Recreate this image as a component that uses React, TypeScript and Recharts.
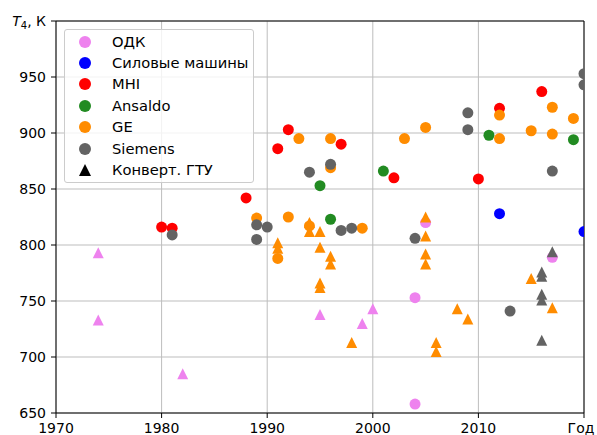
import { ScatterChart, Scatter, XAxis, YAxis, CartesianGrid, ReferenceLine, Legend } from "recharts";

// [year, T4] pairs
const odkDots = [[2004, 753], [2004, 658], [2005, 820], [2017, 789]];
const odkTris = [[1974, 793], [1974, 733], [1982, 685], [1995, 738], [1999, 730], [2000, 743]];
const silmashDots = [[2012, 828], [2020, 812]];
const mhiDots = [
  [1980, 816], [1981, 815], [1988, 842], [1991, 886], [1992, 903],
  [1997, 890], [2002, 860], [2010, 859], [2012, 922], [2016, 937],
];
const ansaldoDots = [[1995, 853], [1996, 823], [2001, 866], [2011, 898], [2019, 894]];
const geDots = [
  [1989, 824], [1991, 788], [1992, 825], [1993, 895], [1994, 817], [1996, 895],
  [1996, 869], [1999, 815], [2003, 895], [2005, 905], [2012, 916], [2012, 895],
  [2015, 902], [2017, 923], [2017, 899], [2019, 913],
];
const geTris = [
  [1991, 802], [1991, 797], [1994, 820], [1994, 812], [1995, 812], [1995, 798],
  [1995, 766], [1995, 762], [1996, 790], [1996, 783], [1998, 713], [2005, 825],
  [2005, 808], [2005, 792], [2005, 783], [2006, 713], [2006, 705], [2008, 743],
  [2009, 734], [2015, 770], [2017, 744],
];
const siemensDots = [
  [1981, 809], [1989, 818], [1989, 805], [1990, 816], [1994, 865], [1996, 872],
  [1997, 813], [1998, 815], [2004, 806], [2009, 918], [2009, 903], [2013, 741],
  [2017, 866], [2020, 953], [2020, 943],
];
const siemensTris = [[2016, 776], [2016, 772], [2016, 756], [2016, 751], [2016, 715], [2017, 794]];

const xTicks = [1970, 1980, 1990, 2000, 2010, 2020];
const yTicks = [650, 700, 750, 800, 850, 900, 950, 1000];

const legendItems = [
  { label: "ОДК", color: "#ee82ee", tri: false },
  { label: "Силовые машины", color: "#0000ff", tri: false },
  { label: "MHI", color: "#ff0000", tri: false },
  { label: "Ansaldo", color: "#228b22", tri: false },
  { label: "GE", color: "#ff8c00", tri: false },
  { label: "Siemens", color: "#636363", tri: false },
  { label: "Конверт. ГТУ", color: "#000000", tri: true },
];

const FONT = "'DejaVu Sans', sans-serif";

const toPts = (rows: number[][]) => rows.map(([year, t4]) => ({ year, t4 }));

const dot = (fill: string) => (p: any) => <circle cx={p.cx} cy={p.cy} r={5.5} fill={fill} />;
const tri = (fill: string) => (p: any) => (
  <path
    d={`M${p.cx},${p.cy - 5.5}L${p.cx + 5.5},${p.cy + 5.5}L${p.cx - 5.5},${p.cy + 5.5}Z`}
    fill={fill}
  />
);

const XTick = (p: any) => (
  <text x={p.x} y={p.y} dy="0.71em" textAnchor="middle" fontFamily={FONT} fontSize={14} fill="#000">
    {p.payload.value === 2020 ? "Год" : p.payload.value}
  </text>
);

const YTick = (p: any) =>
  p.payload.value === 1000 ? (
    <text x={p.x} y={p.y} dy="0.35em" textAnchor="end" fontFamily={FONT} fontSize={14} fill="#000">
      <tspan fontStyle="italic">T</tspan>
      <tspan fontSize={10} dy={3}>4</tspan>
      <tspan dy={-3}>, К</tspan>
    </text>
  ) : (
    <text x={p.x} y={p.y} dy="0.35em" textAnchor="end" fontFamily={FONT} fontSize={14} fill="#000">
      {p.payload.value}
    </text>
  );

function LegendBox() {
  return (
    <div
      style={{
        width: 188,
        height: 152,
        border: "1px solid #cccccc",
        borderRadius: 3,
        background: "rgba(255,255,255,0.8)",
        position: "relative",
        fontFamily: FONT,
        fontSize: 14.7,
        color: "#000",
      }}
    >
      {legendItems.map((it, i) => (
        <div key={it.label} style={{ position: "absolute", left: 0, top: 1.5 + i * 21.4, height: 20, display: "flex", alignItems: "center" }}>
          <svg width={40} height={20} style={{ display: "block" }}>
            {it.tri ? (
              <path d="M20,4L26,16L14,16Z" fill={it.color} />
            ) : (
              <circle cx={20} cy={10} r={6} fill={it.color} />
            )}
          </svg>
          <span style={{ marginLeft: 7, whiteSpace: "nowrap", lineHeight: "20px" }}>{it.label}</span>
        </div>
      ))}
    </div>
  );
}

export default function App() {
  return (
    <div style={{ position: "absolute", left: 0, top: 0, width: 597, height: 435, background: "#fff" }}>
      <ScatterChart width={597} height={435} margin={{ top: 21, right: 13, bottom: 0, left: 0 }}>
        <CartesianGrid stroke="#bdbdbd" strokeWidth={1} />
        <XAxis
          type="number"
          dataKey="year"
          domain={[1970, 2020]}
          ticks={xTicks}
          allowDataOverflow
          height={22}
          tickSize={5}
          tickMargin={5}
          axisLine={{ stroke: "#000" }}
          tickLine={{ stroke: "#000" }}
          tick={<XTick />}
        />
        <YAxis
          type="number"
          dataKey="t4"
          domain={[650, 1000]}
          ticks={yTicks}
          allowDataOverflow
          width={56}
          tickSize={5}
          tickMargin={5}
          axisLine={{ stroke: "#000" }}
          tickLine={{ stroke: "#000" }}
          tick={<YTick />}
        />
        <ReferenceLine y={1000} stroke="#000" />
        <ReferenceLine x={2020} stroke="#000" />
        <Scatter data={toPts(odkDots)} shape={dot("#ee82ee")} isAnimationActive={false} />
        <Scatter data={toPts(silmashDots)} shape={dot("#0000ff")} isAnimationActive={false} />
        <Scatter data={toPts(mhiDots)} shape={dot("#ff0000")} isAnimationActive={false} />
        <Scatter data={toPts(ansaldoDots)} shape={dot("#228b22")} isAnimationActive={false} />
        <Scatter data={toPts(geDots)} shape={dot("#ff8c00")} isAnimationActive={false} />
        <Scatter data={toPts(siemensDots)} shape={dot("#636363")} isAnimationActive={false} />
        <Scatter data={toPts(odkTris)} shape={tri("#ee82ee")} isAnimationActive={false} />
        <Scatter data={toPts(geTris)} shape={tri("#ff8c00")} isAnimationActive={false} />
        <Scatter data={toPts(siemensTris)} shape={tri("#636363")} isAnimationActive={false} />
        <Legend
          layout="vertical"
          align="center"
          verticalAlign="middle"
          wrapperStyle={{ left: 64, top: 29, width: 190, height: 154 }}
          content={() => <LegendBox />}
        />
      </ScatterChart>
    </div>
  );
}
